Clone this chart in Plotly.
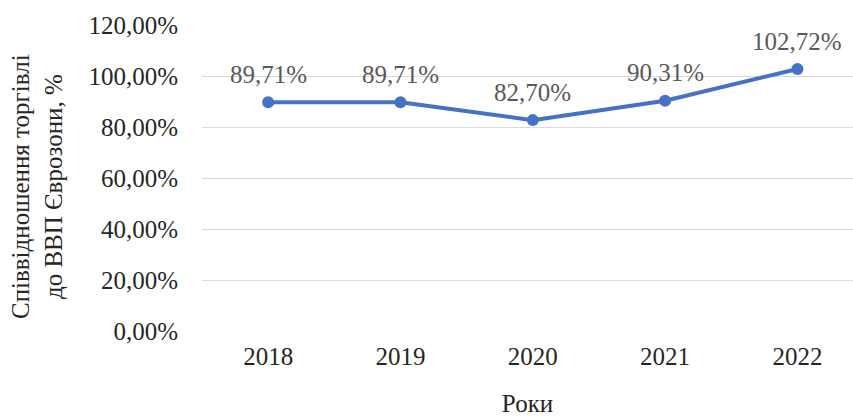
import plotly.graph_objects as go

years = ["2018", "2019", "2020", "2021", "2022"]
ratio = [0.8971, 0.8971, 0.8270, 0.9031, 1.0272]
ratio_labels = ["89,71%", "89,71%", "82,70%", "90,31%", "102,72%"]

y_ticks = [0, 0.2, 0.4, 0.6, 0.8, 1.0, 1.2]
y_tick_labels = ["0,00%", "20,00%", "40,00%", "60,00%", "80,00%", "100,00%", "120,00%"]

FONT = "Liberation Serif"

fig = go.Figure()
fig.add_trace(
    go.Scatter(
        x=years,
        y=ratio,
        mode="lines+markers",
        line=dict(color="#4472C4", width=4),
        marker=dict(color="#4472C4", size=12),
        cliponaxis=False,
        showlegend=False,
    )
)

# data labels sit a fixed distance above each point
# (category index as x, year strings would be read as numbers)
labels = [
    dict(
        x=i,
        y=val,
        text=lab,
        showarrow=False,
        yshift=28,
        font=dict(family=FONT, size=25, color="#595959"),
    )
    for i, (val, lab) in enumerate(zip(ratio, ratio_labels))
]

labels.append(
    dict(
        text="Співвідношення торгівлі<br>до ВВП Єврозони, %",
        textangle=-90,
        xref="paper",
        yref="paper",
        x=0,
        y=0.5,
        xanchor="center",
        yanchor="middle",
        xshift=-165,
        yshift=-9,
        showarrow=False,
        font=dict(family=FONT, size=25, color="#262626"),
    )
)

fig.update_layout(
    width=853,
    height=417,
    margin=dict(l=202, r=0, t=25, b=86),
    plot_bgcolor="white",
    paper_bgcolor="white",
    font=dict(family=FONT, size=25, color="#262626"),
    xaxis=dict(
        type="category",
        range=[-0.5, 4.42],
        showgrid=False,
        showline=False,
        zeroline=False,
        ticks="",
        automargin=False,
        ticklabelstandoff=8,
        title=dict(text="Роки", standoff=27, font=dict(family=FONT, size=25)),
        tickfont=dict(family=FONT, size=25),
    ),
    yaxis=dict(
        range=[0, 1.2],
        tickvals=y_ticks,
        ticktext=y_tick_labels,
        showgrid=True,
        gridcolor="#D9D9D9",
        gridwidth=1.3,
        zeroline=False,
        showline=False,
        ticks="",
        automargin=False,
        ticklabelstandoff=23,
        tickfont=dict(family=FONT, size=25),
    ),
    annotations=labels,
)

# drop the default 8px body margin so the figure fills the window
fig.write_html(
    "out.html",
    config={"displayModeBar": False},
    post_script="document.body.style.margin='0';",
)
